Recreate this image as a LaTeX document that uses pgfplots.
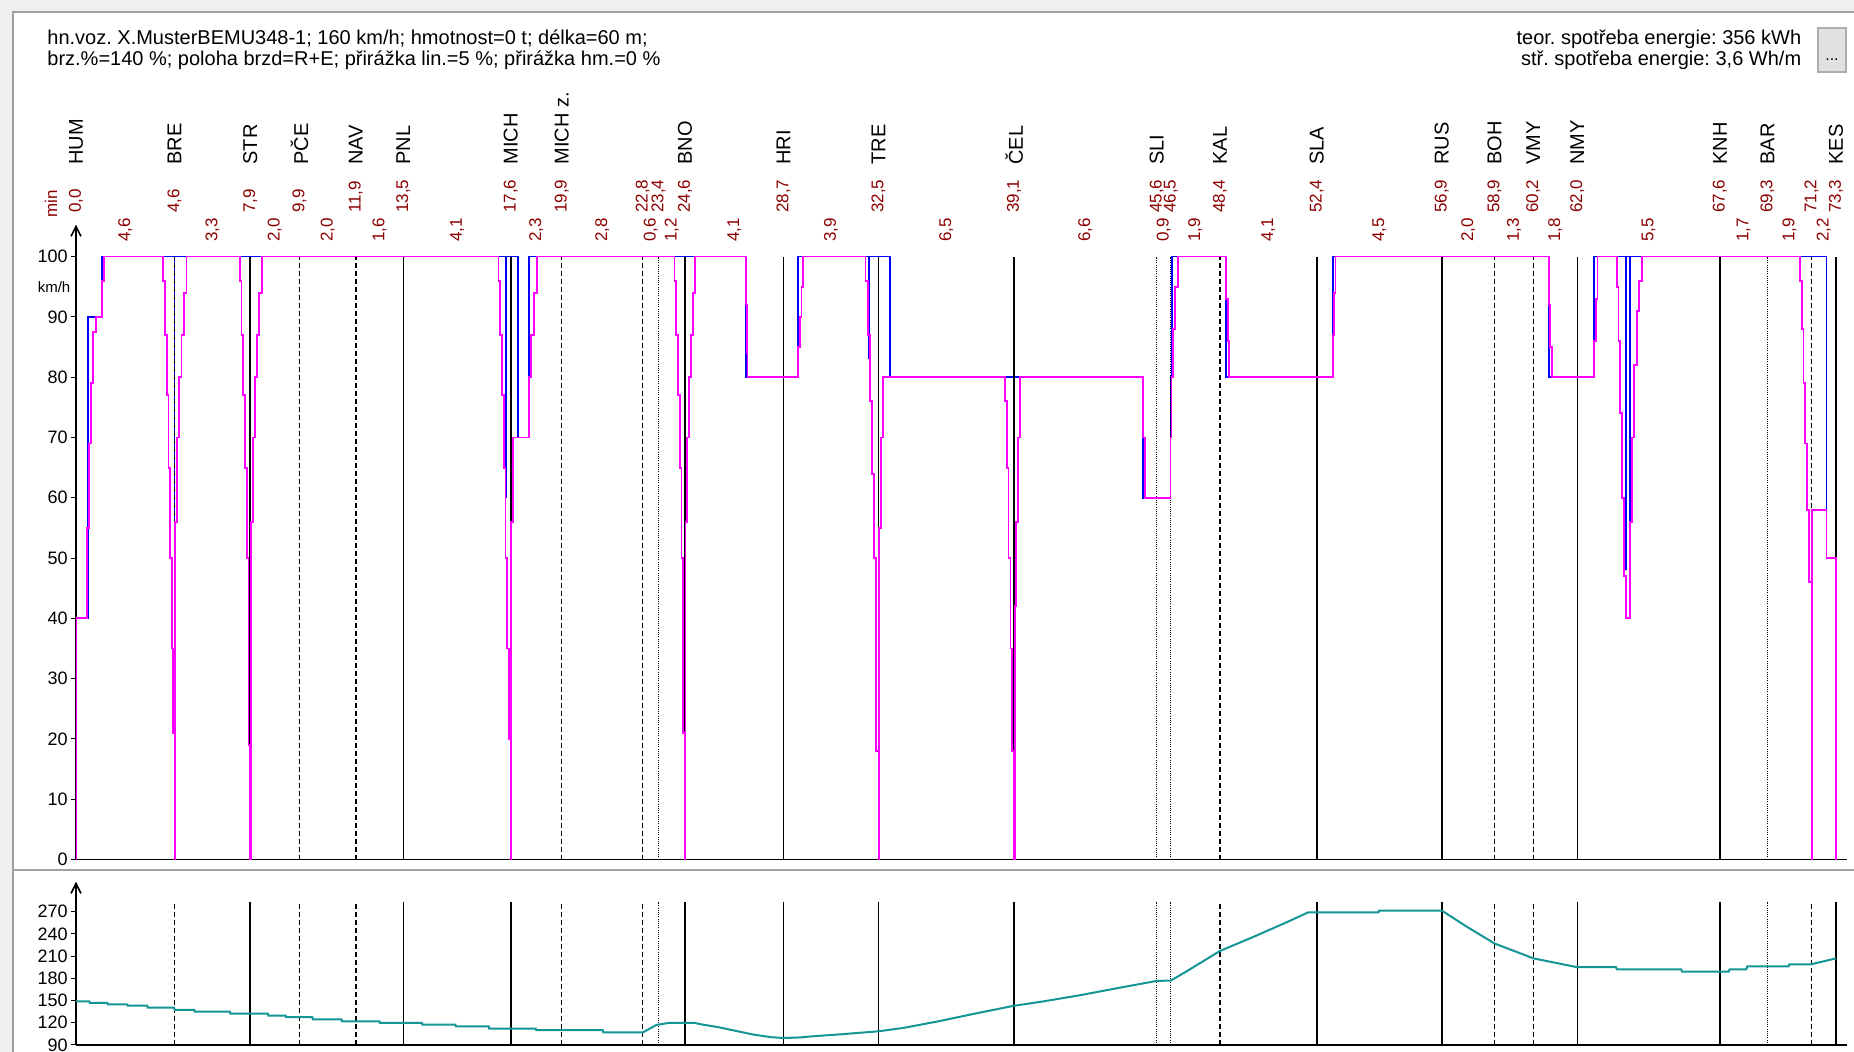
\documentclass[border=0pt]{standalone}
\usepackage{fontspec}
\setmainfont{Liberation Sans}
\usepackage{pgfplots}
\pgfplotsset{compat=1.18}
\usetikzlibrary{arrows.meta}
\frenchspacing

\definecolor{speedpink}{RGB}{255,0,255}
\definecolor{limitblue}{RGB}{0,0,255}
\definecolor{gradteal}{RGB}{20,150,150}
\definecolor{timered}{RGB}{140,0,0}
\definecolor{framegray}{RGB}{160,160,160}
\definecolor{winbg}{RGB}{240,240,240}
\definecolor{btnfill}{RGB}{225,225,225}
\definecolor{btnedge}{RGB}{173,173,173}

% station name + cumulative running time (min)
\newcommand{\stationlabel}[3]{%
  \node[rotate=90, anchor=west, inner sep=0pt, font=\fontsize{10}{10}\selectfont]
    at (axis cs:#1,115.2) {#2};
  \node[rotate=90, anchor=west, inner sep=0pt, text=timered, font=\fontsize{8.5}{8.5}\selectfont]
    at (axis cs:#1,107.2) {#3};}
% running time of a section
\newcommand{\sectionlabel}[2]{%
  \node[rotate=90, anchor=west, inner sep=0pt, text=timered, font=\fontsize{8.5}{8.5}\selectfont]
    at (axis cs:#1,102.4) {#2};}

\pgfplotsset{
  profile axis/.style={
    scale only axis, width=885.3pt,
    xmin=0, xmax=100.6,
    axis x line=bottom, axis y line=left,
    axis line style={black, line width=0.8pt},
    x axis line style={-},
    y axis line style={-{Straight Barb[length=5pt,width=5pt]}},
    xtick=\empty,
    tick align=outside, major tick length=2.5pt,
    ytick style={black, line width=0.5pt},
    yticklabel style={font=\fontsize{9}{9}\selectfont, inner sep=1.5pt},
    /pgf/number format/assume math mode=true,
    clip mode=individual,
  },
  solid stop/.style={ycomb, black, line width=0.8pt},
  dashed stop/.style={ycomb, black, line width=0.7pt, dash pattern=on 2.5pt off 1.5pt},
  dotted stop/.style={ycomb, black, line width=0.6pt, dash pattern=on 0.5pt off 0.6pt},
}

\begin{document}
\begin{tikzpicture}[x=1pt,y=1pt]
\useasboundingbox (0,0) rectangle (927,526);
\fill[winbg] (0,0) rectangle (927,526);
\fill[white] (6.5,0) rectangle (927,520);
\draw[framegray, line width=0.8pt] (6.5,0) -- (6.5,520) -- (927,520);
\draw[framegray, line width=0.8pt] (6.5,91) -- (927,91);

% header
\node[anchor=base west, inner sep=0pt, font=\fontsize{10}{10}\selectfont] at (23.5,503.5)
  {hn.voz. X.MusterBEMU348-1; 160 km/h; hmotnost=0 t; délka=60 m;};
\node[anchor=base west, inner sep=0pt, font=\fontsize{10}{10}\selectfont] at (23.5,493)
  {brz.\%=140 \%; poloha brzd=R+E; přirážka lin.=5 \%; přirážka hm.=0 \%};
\node[anchor=base east, inner sep=0pt, font=\fontsize{10}{10}\selectfont] at (900.8,503.5)
  {teor. spotřeba energie: 356 kWh};
\node[anchor=base east, inner sep=0pt, font=\fontsize{10}{10}\selectfont] at (900.8,493)
  {stř. spotřeba energie: 3,6 Wh/m};
\draw[fill=btnfill, draw=btnedge, line width=0.6pt] (909,490) rectangle (923,512);
\node[inner sep=0pt, font=\fontsize{8}{8}\selectfont] at (916,496) {...};

% speed profile
\begin{axis}[profile axis, at={(38pt,96.2pt)}, anchor=south west, height=317.5pt,
  ymin=0, ymax=105.3, ytick={0,10,...,100}]
  % line speed limit
  \addplot[limitblue, line width=0.9pt] coordinates {
    (0,40) (0.7,40) (0.7,90) (1.46,90) (1.46,100) (5.6,100) (5.6,31) (5.6,100)
    (9.9,100) (9.9,23) (9.9,100) (24.45,100) (24.45,60) (24.45,100) (24.7,100)
    (24.7,38) (24.7,100) (25.1,100) (25.1,70) (25.72,70) (25.72,100) (34.6,100)
    (34.6,43) (34.6,100) (38.07,100) (38.07,80) (41.03,80) (41.03,100) (45.06,100)
    (45.06,83) (45.06,100) (45.6,100) (45.6,43) (45.6,100) (46.27,100) (46.27,80)
    (53.3,80) (53.3,42) (53.3,80) (60.64,80) (60.64,60) (62.19,60) (62.19,80)
    (62.28,80) (62.28,100) (65.35,100) (65.35,80) (71.4,80) (71.4,100) (83.69,100)
    (83.69,80) (86.24,80) (86.24,100) (88.05,100) (88.05,48) (88.05,100) (88.3,100)
    (88.3,53.5) (88.3,100) (99.46,100) (99.46,50) (100,50) (100,15)};
  % stations and stops
  \addplot[solid stop] coordinates {(9.9,100) (18.6,100) (24.7,100) (34.6,100)
    (40.2,100) (45.6,100) (53.3,100) (70.5,100) (77.6,100) (85.3,100) (93.4,100) (100,100)};
  \addplot[dashed stop] coordinates {(5.6,100) (12.7,100) (15.9,100) (27.6,100)
    (32.2,100) (65.0,100) (80.6,100) (82.8,100) (98.6,100)};
  \addplot[dotted stop] coordinates {(33.1,100) (61.4,100) (62.2,100) (96.1,100)};
  % running speed
  \addplot[speedpink, line width=0.9pt] coordinates {
    (0,0) (0,40) (0.64,40) (0.64,55) (0.76,55) (0.76,69) (0.87,69) (0.87,79) (0.98,79)
    (0.98,87.5) (1.12,87.5) (1.12,90) (1.49,90) (1.49,96) (1.6,96) (1.6,100)
    (4.95,100) (4.95,96) (5.05,96) (5.05,87) (5.15,87) (5.15,77) (5.25,77) (5.25,65)
    (5.35,65) (5.35,50) (5.45,50) (5.45,35) (5.52,35) (5.52,21) (5.6,21) (5.6,0)
    (5.63,0) (5.63,56) (5.75,56) (5.75,70) (5.87,70) (5.87,80) (5.99,80) (5.99,87)
    (6.12,87) (6.12,94) (6.28,94) (6.28,100)
    (9.3,100) (9.3,96) (9.4,96) (9.4,87) (9.5,87) (9.5,77) (9.6,77) (9.6,65) (9.7,65)
    (9.7,50) (9.8,50) (9.8,19) (9.9,19) (9.9,0) (9.93,0) (9.93,56) (10.05,56)
    (10.05,70) (10.17,70) (10.17,80) (10.29,80) (10.29,87) (10.42,87) (10.42,94)
    (10.58,94) (10.58,100)
    (24.0,100) (24.0,96) (24.1,96) (24.1,87) (24.2,87) (24.2,77) (24.3,77) (24.3,65)
    (24.4,65) (24.4,50) (24.5,50) (24.5,35) (24.6,35) (24.6,20) (24.7,20) (24.7,0)
    (24.73,0) (24.73,56) (24.82,56) (24.82,70) (25.72,70) (25.72,80) (25.85,80)
    (25.85,87) (26.0,87) (26.0,94) (26.2,94) (26.2,100)
    (34.0,100) (34.0,96) (34.1,96) (34.1,87) (34.2,87) (34.2,77) (34.3,77) (34.3,65)
    (34.4,65) (34.4,50) (34.5,50) (34.5,21) (34.6,21) (34.6,0) (34.63,0) (34.63,56)
    (34.73,56) (34.73,70) (34.83,70) (34.83,80) (34.93,80) (34.93,87) (35.05,87)
    (35.05,94) (35.18,94) (35.18,100)
    (38.07,100) (38.07,92) (38.11,92) (38.11,84) (38.15,84) (38.15,80) (41.03,80)
    (41.03,85) (41.12,85) (41.12,90) (41.22,90) (41.22,95) (41.32,95) (41.32,100)
    (44.86,100) (44.86,96) (44.98,96) (44.98,87) (45.1,87) (45.1,76) (45.22,76)
    (45.22,64) (45.34,64) (45.34,50) (45.46,50) (45.46,18) (45.6,18) (45.6,0)
    (45.63,0) (45.63,55) (45.73,55) (45.73,70) (45.83,70) (45.83,80)
    (52.78,80) (52.78,76) (52.88,76) (52.88,65) (52.98,65) (52.98,50) (53.1,50)
    (53.1,35) (53.2,35) (53.2,18) (53.3,18) (53.3,0) (53.33,0) (53.33,42) (53.42,42)
    (53.42,56) (53.52,56) (53.52,70) (53.62,70) (53.62,80)
    (60.64,80) (60.64,70) (60.72,70) (60.72,60) (62.19,60) (62.19,70) (62.24,70)
    (62.24,80) (62.32,80) (62.32,88) (62.45,88) (62.45,95) (62.6,95) (62.6,100)
    (65.35,100) (65.35,93) (65.43,93) (65.43,86) (65.5,86) (65.5,80) (71.4,80)
    (71.4,87) (71.48,87) (71.48,94) (71.56,94) (71.56,100)
    (83.69,100) (83.69,92) (83.76,92) (83.76,85) (83.85,85) (83.85,80) (86.24,80)
    (86.24,86) (86.34,86) (86.34,93) (86.45,93) (86.45,100)
    (87.54,100) (87.54,95) (87.64,95) (87.64,86) (87.74,86) (87.74,74) (87.84,74)
    (87.84,60) (87.95,60) (87.95,47) (88.05,47) (88.05,40) (88.3,40) (88.3,56)
    (88.42,56) (88.42,70) (88.54,70) (88.54,82) (88.68,82) (88.68,91) (88.82,91)
    (88.82,96) (88.96,96) (88.96,100)
    (97.95,100) (97.95,96) (98.05,96) (98.05,88) (98.15,88) (98.15,79) (98.25,79)
    (98.25,69) (98.35,69) (98.35,58) (98.47,58) (98.47,46) (98.6,46) (98.6,0)
    (98.64,0) (98.64,58) (99.46,58) (99.46,50) (100,50) (100,0)};

  \node[anchor=east, inner sep=0pt, font=\fontsize{7.5}{7.5}\selectfont] at (axis cs:-0.3,95) {km/h};
  \node[rotate=90, anchor=west, inner sep=0pt, text=timered, font=\fontsize{8.5}{8.5}\selectfont]
    at (axis cs:-1.42,106.4) {min};

  \stationlabel{0}{HUM}{0,0}
  \stationlabel{5.6}{BRE}{4,6}
  \stationlabel{9.9}{STR}{7,9}
  \stationlabel{12.7}{PČE}{9,9}
  \stationlabel{15.9}{NAV}{11,9}
  \stationlabel{18.6}{PNL}{13,5}
  \stationlabel{24.7}{MICH}{17,6}
  \stationlabel{27.6}{MICH z.}{19,9}
  \stationlabel{32.2}{}{22,8}
  \stationlabel{33.1}{}{23,4}
  \stationlabel{34.6}{BNO}{24,6}
  \stationlabel{40.2}{HRI}{28,7}
  \stationlabel{45.6}{TRE}{32,5}
  \stationlabel{53.3}{ČEL}{39,1}
  \stationlabel{61.4}{SLI}{45,6}
  \stationlabel{62.2}{}{46,5}
  \stationlabel{65.0}{KAL}{48,4}
  \stationlabel{70.5}{SLA}{52,4}
  \stationlabel{77.6}{RUS}{56,9}
  \stationlabel{80.6}{BOH}{58,9}
  \stationlabel{82.8}{VMY}{60,2}
  \stationlabel{85.3}{NMY}{62,0}
  \stationlabel{93.4}{KNH}{67,6}
  \stationlabel{96.1}{BAR}{69,3}
  \stationlabel{98.6}{}{71,2}
  \stationlabel{100}{KES}{73,3}

  \sectionlabel{2.8}{4,6}
  \sectionlabel{7.75}{3,3}
  \sectionlabel{11.3}{2,0}
  \sectionlabel{14.3}{2,0}
  \sectionlabel{17.25}{1,6}
  \sectionlabel{21.65}{4,1}
  \sectionlabel{26.15}{2,3}
  \sectionlabel{29.9}{2,8}
  \sectionlabel{32.65}{0,6}
  \sectionlabel{33.85}{1,2}
  \sectionlabel{37.4}{4,1}
  \sectionlabel{42.9}{3,9}
  \sectionlabel{49.45}{6,5}
  \sectionlabel{57.35}{6,6}
  \sectionlabel{61.8}{0,9}
  \sectionlabel{63.6}{1,9}
  \sectionlabel{67.75}{4,1}
  \sectionlabel{74.05}{4,5}
  \sectionlabel{79.1}{2,0}
  \sectionlabel{81.7}{1,3}
  \sectionlabel{84.05}{1,8}
  \sectionlabel{89.35}{5,5}
  \sectionlabel{94.75}{1,7}
  \sectionlabel{97.35}{1,9}
  \sectionlabel{99.3}{2,2}
\end{axis}

% altitude profile
\begin{axis}[profile axis, at={(38pt,3.5pt)}, anchor=south west, height=81.65pt,
  ymin=90, ymax=310.5, ytick={90,120,...,270}]
  \addplot[solid stop] coordinates {(9.9,283.5) (18.6,283.5) (24.7,283.5) (34.6,283.5)
    (40.2,283.5) (45.6,283.5) (53.3,283.5) (70.5,283.5) (77.6,283.5) (85.3,283.5)
    (93.4,283.5) (100,283.5)};
  \addplot[dashed stop] coordinates {(5.6,283.5) (12.7,283.5) (15.9,283.5) (27.6,283.5)
    (32.2,283.5) (65.0,283.5) (80.6,283.5) (82.8,283.5) (98.6,283.5)};
  \addplot[dotted stop] coordinates {(33.1,283.5) (61.4,283.5) (62.2,283.5) (96.1,283.5)};
  \addplot[gradteal, line width=1pt] coordinates {
    (0,149) (0.75,149) (0.78,147) (1.77,147) (1.8,145) (2.91,145) (2.94,143) (4.05,143)
    (4.08,140.5) (5.57,140.5) (5.6,137.5) (6.72,137.5) (6.75,135) (8.74,135)
    (8.77,132.5) (10.9,132.5) (10.93,129.5) (11.91,129.5) (11.94,127.5) (13.43,127.5)
    (13.46,124.5) (15.09,124.5) (15.12,122) (17.24,122) (17.27,120) (19.65,120)
    (19.68,117.5) (21.56,117.5) (21.59,115) (23.45,115) (23.48,112) (26.12,112)
    (26.15,110) (29.93,110) (29.96,107) (32.21,107) (32.97,117) (33.73,120) (35.12,120)
    (35.5,118) (36.5,114) (37.5,109) (38.5,104) (39.5,100.5) (40.2,99.5) (41,100)
    (42,102) (43.5,104.5) (45.6,108.5) (47,113) (49,122) (51,132) (53.3,143) (55,149)
    (57,157) (59,166) (61.4,176.5) (62.2,177) (63,188) (65,217) (67,237) (69,258)
    (70,269) (74,269) (74.05,271.5) (77.6,271.5) (79,250) (80.6,227) (82.8,207)
    (85.3,195) (87.5,195) (87.55,192) (91.2,192) (91.25,189) (93.9,189) (93.95,192)
    (94.9,192) (94.95,196) (97.3,196) (97.35,199) (98.6,199) (100,207)};
\end{axis}
\end{tikzpicture}
\end{document}
